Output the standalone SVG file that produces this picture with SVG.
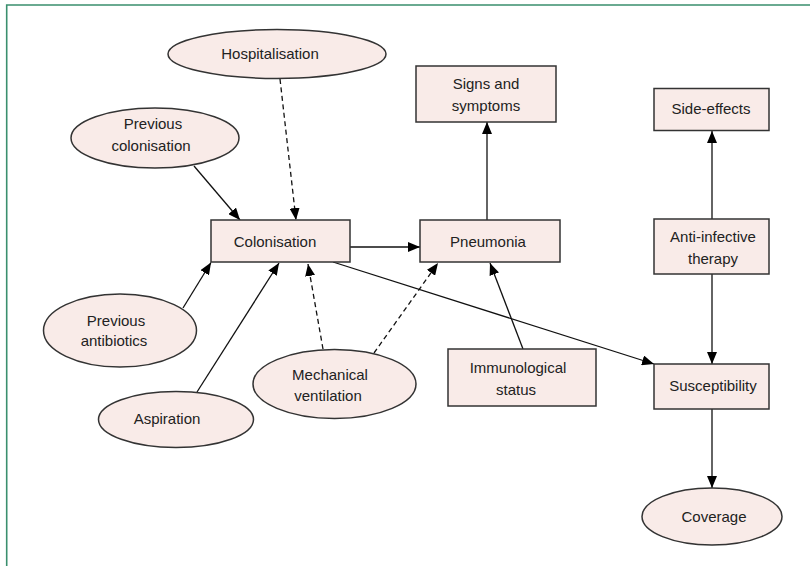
<svg xmlns="http://www.w3.org/2000/svg" width="810" height="566" viewBox="0 0 810 566">
<style>
.n{fill:#f9ebe8;stroke:#333;stroke-width:1.5}
.t{font-family:"Liberation Sans",Arial,sans-serif;font-size:15px;fill:#222;text-anchor:middle}
.c{stroke:#111;stroke-width:1.3;fill:none}
.d{stroke-dasharray:5 3.5}
</style>
<defs>
<marker id="a" viewBox="0 0 12 10" refX="12" refY="5" markerWidth="12" markerHeight="10" markerUnits="userSpaceOnUse" orient="auto">
<path d="M0,0 L12,5 L0,10 z" fill="#000"/>
</marker>
</defs>
<rect width="810" height="566" fill="#fff"/>
<path d="M6.7,566 V5 H810" fill="none" stroke="#3a8f6e" stroke-width="1.6"/>
<g id="connectors">
<line class="c d" x1="280" y1="79" x2="296" y2="220" marker-end="url(#a)"/>
<line class="c" x1="194" y1="166" x2="240" y2="220" marker-end="url(#a)"/>
<line class="c" x1="350" y1="247" x2="420" y2="247" marker-end="url(#a)"/>
<line class="c" x1="487" y1="220" x2="487" y2="122" marker-end="url(#a)"/>
<line class="c" x1="712" y1="219" x2="712" y2="131" marker-end="url(#a)"/>
<line class="c" x1="712" y1="274" x2="712" y2="364" marker-end="url(#a)"/>
<line class="c" x1="712" y1="409" x2="712" y2="488" marker-end="url(#a)"/>
<line class="c" x1="183" y1="308" x2="211" y2="262.5" marker-end="url(#a)"/>
<line class="c" x1="197" y1="392" x2="279" y2="263" marker-end="url(#a)"/>
<line class="c d" x1="323" y1="349" x2="308" y2="264" marker-end="url(#a)"/>
<line class="c d" x1="374" y1="353" x2="438" y2="263" marker-end="url(#a)"/>
<line class="c" x1="523" y1="349" x2="490" y2="263" marker-end="url(#a)"/>
<line class="c" x1="333" y1="262" x2="654" y2="364" marker-end="url(#a)"/>
</g>
<g id="hospitalisation"><ellipse class="n" cx="277" cy="54" rx="109" ry="24.5"/><text class="t" x="270" y="59">Hospitalisation</text></g>
<g id="signs"><rect class="n" x="416" y="66" width="140" height="56"/><text class="t" x="486" y="89">Signs and</text><text class="t" x="486" y="111">symptoms</text></g>
<g id="side-effects"><rect class="n" x="654" y="88.5" width="115" height="42"/><text class="t" x="711" y="114">Side-effects</text></g>
<g id="prev-colonisation"><ellipse class="n" cx="155" cy="138" rx="84" ry="30"/><text class="t" x="153" y="129">Previous</text><text class="t" x="151" y="151">colonisation</text></g>
<g id="colonisation"><rect class="n" x="211" y="220" width="139" height="42"/><text class="t" x="275" y="247">Colonisation</text></g>
<g id="pneumonia"><rect class="n" x="420" y="220" width="140" height="42"/><text class="t" x="488" y="247">Pneumonia</text></g>
<g id="anti-infective"><rect class="n" x="654" y="219" width="115" height="55"/><text class="t" x="713" y="242">Anti-infective</text><text class="t" x="713" y="264">therapy</text></g>
<g id="prev-antibiotics"><ellipse class="n" cx="120" cy="330.5" rx="76.5" ry="36.5"/><text class="t" x="116" y="326">Previous</text><text class="t" x="114" y="346">antibiotics</text></g>
<g id="mech-vent"><ellipse class="n" cx="334.5" cy="384" rx="81.5" ry="34.5"/><text class="t" x="330" y="380">Mechanical</text><text class="t" x="328" y="401">ventilation</text></g>
<g id="immunological"><rect class="n" x="448" y="349" width="148" height="57"/><text class="t" x="518" y="373">Immunological</text><text class="t" x="516" y="395">status</text></g>
<g id="susceptibility"><rect class="n" x="654" y="364" width="115" height="45"/><text class="t" x="713" y="391">Susceptibility</text></g>
<g id="aspiration"><ellipse class="n" cx="176" cy="419.5" rx="77.5" ry="28"/><text class="t" x="167" y="424">Aspiration</text></g>
<g id="coverage"><ellipse class="n" cx="712" cy="516.5" rx="70" ry="28.5"/><text class="t" x="714" y="522">Coverage</text></g>
</svg>
